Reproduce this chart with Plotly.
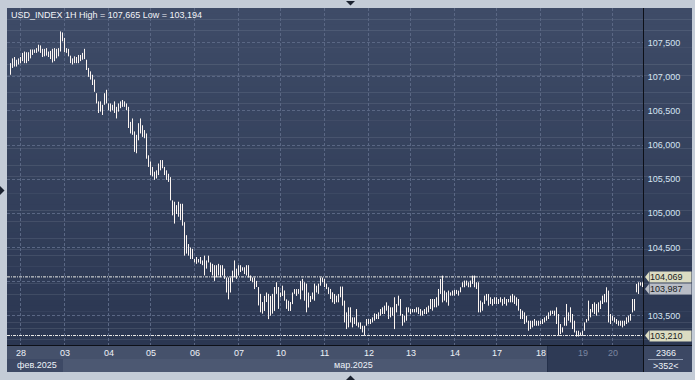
import plotly.graph_objects as go

# ---------------- data ----------------
high = [
    107.20, 107.27, 107.29, 107.25, 107.27, 107.29, 107.35, 107.37, 107.36, 107.36,
    107.40, 107.40, 107.40, 107.42, 107.47, 107.46, 107.41, 107.41, 107.42, 107.37,
    107.38, 107.41, 107.42, 107.41, 107.42, 107.665, 107.65, 107.57, 107.42, 107.41,
    107.31, 107.27, 107.30, 107.29, 107.32, 107.32, 107.35, 107.41, 107.25, 107.13,
    107.08,
    107.03, 106.96, 106.76, 106.64, 106.64, 106.59, 106.76, 106.81, 106.61, 106.61,
    106.59, 106.64, 106.56, 106.61, 106.64, 106.66, 106.64, 106.61, 106.56, 106.34,
    106.39, 106.20, 106.15, 106.32, 106.39, 106.29, 106.22, 106.17, 105.85, 105.76,
    105.68, 105.61, 105.63, 105.73, 105.78, 105.78, 105.68, 105.63, 105.58, 105.53,
    105.19, 105.17, 105.12, 105.17, 105.14, 105.14, 104.87, 104.68, 104.55, 104.50,
    104.48, 104.33, 104.36, 104.33, 104.36, 104.31, 104.38, 104.31, 104.38, 104.28,
    104.26, 104.24, 104.24, 104.26, 104.24, 104.24, 104.19, 104.06, 104.06, 104.06,
    104.16, 104.31, 104.19, 104.24, 104.24, 104.21, 104.21, 104.24, 104.24, 104.09,
    104.06, 104.06, 104.01, 103.92, 103.82, 103.70, 103.79, 103.84, 103.82, 103.79,
    103.82, 103.92, 103.99, 103.92, 103.84, 103.94, 103.87, 103.74, 103.72, 103.70,
    103.84, 103.89, 103.89, 103.89, 104.01, 104.04, 103.99, 103.97, 103.84, 103.79,
    103.84, 103.97, 103.94, 103.97, 104.06, 104.06, 104.04, 103.97,
    103.917, 103.892, 103.843, 103.819, 103.794, 103.819, 103.927, 103.927, 103.721, 103.549,
    103.623, 103.623, 103.476, 103.476, 103.598, 103.402, 103.402, 103.353, 103.353, 103.451,
    103.451, 103.451, 103.476, 103.534, 103.525, 103.549, 103.598, 103.623, 103.647, 103.696,
    103.647, 103.623, 103.623, 103.770, 103.672, 103.794, 103.745, 103.525, 103.500, 103.623,
    103.623, 103.598, 103.598, 103.598, 103.623, 103.623, 103.598, 103.574, 103.598, 103.623,
    103.647, 103.745, 103.745, 103.745, 103.770, 103.892, 104.039, 104.088, 103.868, 103.843,
    103.868, 103.843, 103.868, 103.878, 103.878, 103.868, 103.917, 103.990, 104.015, 104.015,
    103.990, 104.015, 104.088, 104.088, 103.990, 103.990, 103.721, 103.696, 103.794, 103.819,
    103.819, 103.770, 103.745, 103.770, 103.770, 103.745, 103.770, 103.745, 103.770, 103.745,
    103.745, 103.794, 103.819, 103.794, 103.770, 103.745, 103.598, 103.574, 103.549, 103.500,
    103.427, 103.427, 103.427, 103.451, 103.427, 103.427, 103.427, 103.451, 103.476, 103.500,
    103.549, 103.574, 103.574, 103.574, 103.623, 103.525, 103.378, 103.329, 103.476, 103.672,
    103.549, 103.623, 103.525, 103.427, 103.280, 103.280, 103.255, 103.280, 103.402, 103.451,
    103.721, 103.598, 103.672, 103.696, 103.672, 103.696, 103.721, 103.794, 103.819, 103.917,
    103.868, 103.525, 103.500, 103.476, 103.451, 103.427, 103.427, 103.427, 103.427, 103.476,
    103.500, 103.525, 103.745, 103.745, 103.966, 103.990, 103.990, 103.990,
]
low = [
    107.03, 107.13, 107.15, 107.15, 107.18, 107.20, 107.23, 107.20, 107.20, 107.23,
    107.27, 107.32, 107.35, 107.35, 107.37, 107.35, 107.29, 107.30, 107.31, 107.29,
    107.26, 107.21, 107.23, 107.27, 107.30, 107.37, 107.52, 107.36, 107.35, 107.30,
    107.20, 107.18, 107.20, 107.20, 107.20, 107.23, 107.25, 107.26, 107.10, 107.00,
    106.96,
    106.88, 106.78, 106.61, 106.47, 106.49, 106.44, 106.59, 106.61, 106.51, 106.49,
    106.51, 106.47, 106.39, 106.49, 106.54, 106.56, 106.56, 106.51, 106.25, 106.17,
    106.15, 105.90, 105.88, 106.07, 106.17, 106.12, 106.10, 105.80, 105.68, 105.56,
    105.54, 105.49, 105.51, 105.56, 105.63, 105.66, 105.56, 105.49, 105.46, 105.19,
    104.97, 104.85, 104.99, 104.95, 104.90, 104.82, 104.38, 104.41, 104.38, 104.33,
    104.33, 104.28, 104.26, 104.28, 104.26, 104.24, 104.09, 104.19, 104.28, 104.14,
    104.09, 104.01, 104.06, 104.09, 104.06, 104.09, 104.04, 103.84, 103.74, 103.84,
    103.99, 104.06, 104.04, 104.09, 104.14, 104.16, 104.11, 104.09, 104.06, 104.01,
    103.99, 103.89, 103.92, 103.65, 103.55, 103.53, 103.57, 103.70, 103.45, 103.50,
    103.53, 103.57, 103.82, 103.60, 103.77, 103.79, 103.72, 103.60, 103.57, 103.57,
    103.67, 103.82, 103.79, 103.82, 103.74, 103.87, 103.72, 103.55, 103.62, 103.70,
    103.74, 103.72, 103.84, 103.82, 103.94, 103.99, 103.92, 103.89,
    103.819, 103.745, 103.696, 103.672, 103.696, 103.696, 103.770, 103.647, 103.402, 103.304,
    103.329, 103.402, 103.329, 103.378, 103.353, 103.329, 103.304, 103.255, 103.206, 103.353,
    103.378, 103.378, 103.402, 103.427, 103.451, 103.451, 103.500, 103.525, 103.525, 103.574,
    103.451, 103.476, 103.500, 103.304, 103.549, 103.647, 103.500, 103.353, 103.402, 103.427,
    103.549, 103.525, 103.549, 103.549, 103.549, 103.525, 103.500, 103.500, 103.525, 103.525,
    103.549, 103.598, 103.574, 103.623, 103.623, 103.647, 103.819, 103.696, 103.721, 103.696,
    103.647, 103.794, 103.794, 103.794, 103.819, 103.794, 103.843, 103.917, 103.917, 103.941,
    103.917, 103.917, 103.966, 103.917, 103.892, 103.549, 103.549, 103.574, 103.672, 103.721,
    103.647, 103.672, 103.647, 103.672, 103.672, 103.672, 103.696, 103.647, 103.672, 103.647,
    103.696, 103.696, 103.696, 103.672, 103.647, 103.574, 103.451, 103.451, 103.378, 103.402,
    103.280, 103.304, 103.329, 103.353, 103.353, 103.353, 103.378, 103.378, 103.402, 103.427,
    103.451, 103.500, 103.525, 103.500, 103.378, 103.206, 103.231, 103.255, 103.353, 103.353,
    103.427, 103.402, 103.304, 103.255, 103.194, 103.196, 103.206, 103.206, 103.280, 103.402,
    103.427, 103.476, 103.549, 103.525, 103.500, 103.549, 103.598, 103.672, 103.696, 103.696,
    103.402, 103.378, 103.427, 103.402, 103.378, 103.353, 103.353, 103.329, 103.353, 103.378,
    103.402, 103.427, 103.549, 103.574, 103.843, 103.819, 103.941, 103.920,
]

day_first_bar = [5, 27, 49, 70, 92, 114, 135, 157, 179, 200, 222, 243, 265, 286, 301]
day_labels = ["28", "03", "04", "05", "06", "07", "10", "11", "12", "13", "14", "17", "18", "19", "20"]
day_label_dim = [False] * 13 + [True, True]
month_labels = ["фев.2025", "мар.2025"]
price_ticks = [103.5, 104.0, 104.5, 105.0, 105.5, 106.0, 106.5, 107.0, 107.5]
# the 104,000 scale label is covered by the price labels in the reference
price_tick_text = ["103,500", "", "104,500", "105,000", "105,500", "106,000", "106,500", "107,000", "107,500"]
ask_price = 104.069
bid_price = 103.987
low_line_price = 103.210
title_text = "USD_INDEX 1H High = 107,665 Low = 103,194"
bars_total_text = "2366"
bars_visible_text = ">352<"

# ---------------- layout geometry (pixels) ----------------
W, H = 695, 380
PL, PR, PT, PB = 7, 643, 8, 345        # plot box
FR_R, FR_B = 692, 372                  # outer dark frame right / bottom
ROW1_B = 359                           # date row bottom


def xp(px):
    return (px - PL) / (PR - PL)


def yp(py):
    return (PB - py) / (PB - PT)


fig = go.Figure()

# bars (high-low)
bx, by = [], []
for i, (h, l) in enumerate(zip(high, low)):
    bx += [i, i, None]
    by += [l, h, None]
fig.add_trace(go.Scatter(x=bx, y=by, mode="lines",
                         line=dict(color="#fdf6f2", width=1),
                         hoverinfo="skip", showlegend=False))

shapes = []
# background gradient (plot + right scale)
top_c = (62, 75, 103)
bot_c = (43, 55, 82)
nb = 60
for k in range(nb):
    t = k / (nb - 1)
    c = tuple(round(top_c[j] + (bot_c[j] - top_c[j]) * t) for j in range(3))
    y0 = PT + (PB - PT) * k / nb
    y1 = PT + (PB - PT) * (k + 1) / nb
    shapes.append(dict(type="rect", xref="paper", yref="paper", layer="below",
                       x0=xp(PL), x1=xp(FR_R), y0=yp(y1) - 0.001, y1=yp(y0),
                       line=dict(width=0), fillcolor="rgb(%d,%d,%d)" % c))


def rect(x0, x1, y0, y1, color, layer="below"):
    shapes.append(dict(type="rect", xref="paper", yref="paper", layer=layer,
                       x0=xp(x0), x1=xp(x1), y0=yp(y1), y1=yp(y0),
                       line=dict(width=0), fillcolor=color))


rect(PL, PR, PB, ROW1_B, "#45516b")
rect(PL, PR, ROW1_B, FR_B, "#4c5872")
rect(PL, 63, ROW1_B, FR_B, "#3d4965")
rect(547, PR, PB, FR_B, "#2e3a55")
rect(PR, FR_R, PB, FR_B, "#3c4864")


def line(x0, y0, x1, y1, color, width=1, dash=None):
    d = dict(type="line", xref="paper", yref="paper", layer="above",
             x0=xp(x0), x1=xp(x1), y0=yp(y0), y1=yp(y1),
             line=dict(color=color, width=width))
    if dash:
        d["line"]["dash"] = dash
    shapes.append(d)


line(547.5, PB, 547.5, FR_B, "#24304a")
line(PR + 0.5, PT, PR + 0.5, FR_B, "#0d1018")
line(PL, PB + 0.5, FR_R, PB + 0.5, "#0d1018")
line(648, ROW1_B + 0.5, 683, ROW1_B + 0.5, "#8e9ab2")

# price lines
for pr in (ask_price, low_line_price):
    shapes.append(dict(type="line", xref="paper", yref="y", layer="above",
                       x0=0, x1=1, y0=pr, y1=pr,
                       line=dict(color="#e9e9e6", width=1, dash="3px,1px,1px,1px")))

# price label boxes; the bid label is stacked directly under the ask label
# (collision avoidance), the others are centred on their own price.
labels = [
    dict(price=ask_price, bg="#dcdcc2", anchor_price=ask_price, yshift=0),
    dict(price=low_line_price, bg="#dcdcc2", anchor_price=low_line_price, yshift=0),
    dict(price=bid_price, bg="#b9bdc6", anchor_price=ask_price, yshift=-12),
]

annotations = []
FONT = "Liberation Sans, Arial, sans-serif"

for lb in labels:
    cy = lb["yshift"]
    shapes.append(dict(type="path", xref="paper", yref="y", layer="above",
                       xsizemode="pixel", ysizemode="pixel", xanchor=1, yanchor=lb["anchor_price"],
                       path="M 2,%f L 6,%f L 6,%f Z" % (cy, cy + 5, cy - 5),
                       fillcolor=lb["bg"], line=dict(width=0)))
    annotations.append(dict(text=("%.3f" % lb["price"]).replace(".", ","), xref="paper", yref="y",
                            x=1, y=lb["anchor_price"], xanchor="left", yanchor="middle",
                            xshift=6, yshift=lb["yshift"],
                            showarrow=False, width=41, align="left",
                            bgcolor=lb["bg"], borderpad=0,
                            font=dict(family=FONT, size=9, color="#1a1c22")))


def tri(pts):
    path = "M " + " L ".join("%f,%f" % (xp(a), yp(b)) for a, b in pts) + " Z"
    shapes.append(dict(type="path", xref="paper", yref="paper", layer="above",
                       path=path, fillcolor="#1b2230", line=dict(width=0)))


tri([(346, 1), (355, 1), (350.5, 5.5)])
tri([(346, 380), (355, 380), (350.5, 375.5)])
tri([(0, 186), (0, 195), (4.5, 190.5)])

annotations.append(dict(text=title_text, xref="paper", yref="paper",
                        x=xp(9), y=yp(15), xanchor="left", yanchor="middle",
                        showarrow=False, font=dict(family=FONT, size=9, color="#f2f4f8")))

for xv, lab, dim in zip(day_first_bar, day_labels, day_label_dim):
    annotations.append(dict(text=lab, xref="x", yref="paper", x=xv, y=yp(352.5),
                            xanchor="center", yanchor="middle", showarrow=False,
                            font=dict(family=FONT, size=9, color="#7a86a0" if dim else "#eef2f8")))

annotations.append(dict(text=month_labels[0], xref="paper", yref="paper", x=xp(37), y=yp(365),
                        xanchor="center", yanchor="middle", showarrow=False,
                        font=dict(family=FONT, size=9, color="#eef2f8")))
annotations.append(dict(text=month_labels[1], xref="paper", yref="paper", x=xp(353), y=yp(365),
                        xanchor="center", yanchor="middle", showarrow=False,
                        font=dict(family=FONT, size=9, color="#eef2f8")))

annotations.append(dict(text=bars_total_text, xref="paper", yref="paper", x=xp(666), y=yp(352.5),
                        xanchor="center", yanchor="middle", showarrow=False,
                        font=dict(family=FONT, size=9, color="#eef2f8")))
annotations.append(dict(text=bars_visible_text, xref="paper", yref="paper", x=xp(666), y=yp(366),
                        xanchor="center", yanchor="middle", showarrow=False,
                        font=dict(family=FONT, size=9, color="#eef2f8")))

fig.update_layout(
    width=W, height=H,
    margin=dict(l=PL, r=W - PR, t=PT, b=H - PB, pad=0),
    paper_bgcolor="#c4ccd7",
    plot_bgcolor="rgba(0,0,0,0)",
    separators=", ",
    showlegend=False,
    shapes=shapes,
    annotations=annotations,
    xaxis=dict(range=[-1.75, 316.25], tickvals=day_first_bar, showticklabels=False,
               showgrid=True, gridcolor="#5a6784", griddash="3px,2px", gridwidth=1,
               zeroline=False, showline=False, ticks="", fixedrange=True),
    yaxis=dict(range=[103.071, 108.008], side="right", tickvals=price_ticks,
               ticktext=price_tick_text, showgrid=True, gridcolor="#5a6784", griddash="3px,2px",
               gridwidth=1, zeroline=False, showline=False, ticks="outside", ticklen=2,
               tickcolor="rgba(0,0,0,0)",
               tickfont=dict(family=FONT, size=9, color="#d6e4f2"), fixedrange=True),
)

fig.write_html("out.html", config={"displayModeBar": False})
